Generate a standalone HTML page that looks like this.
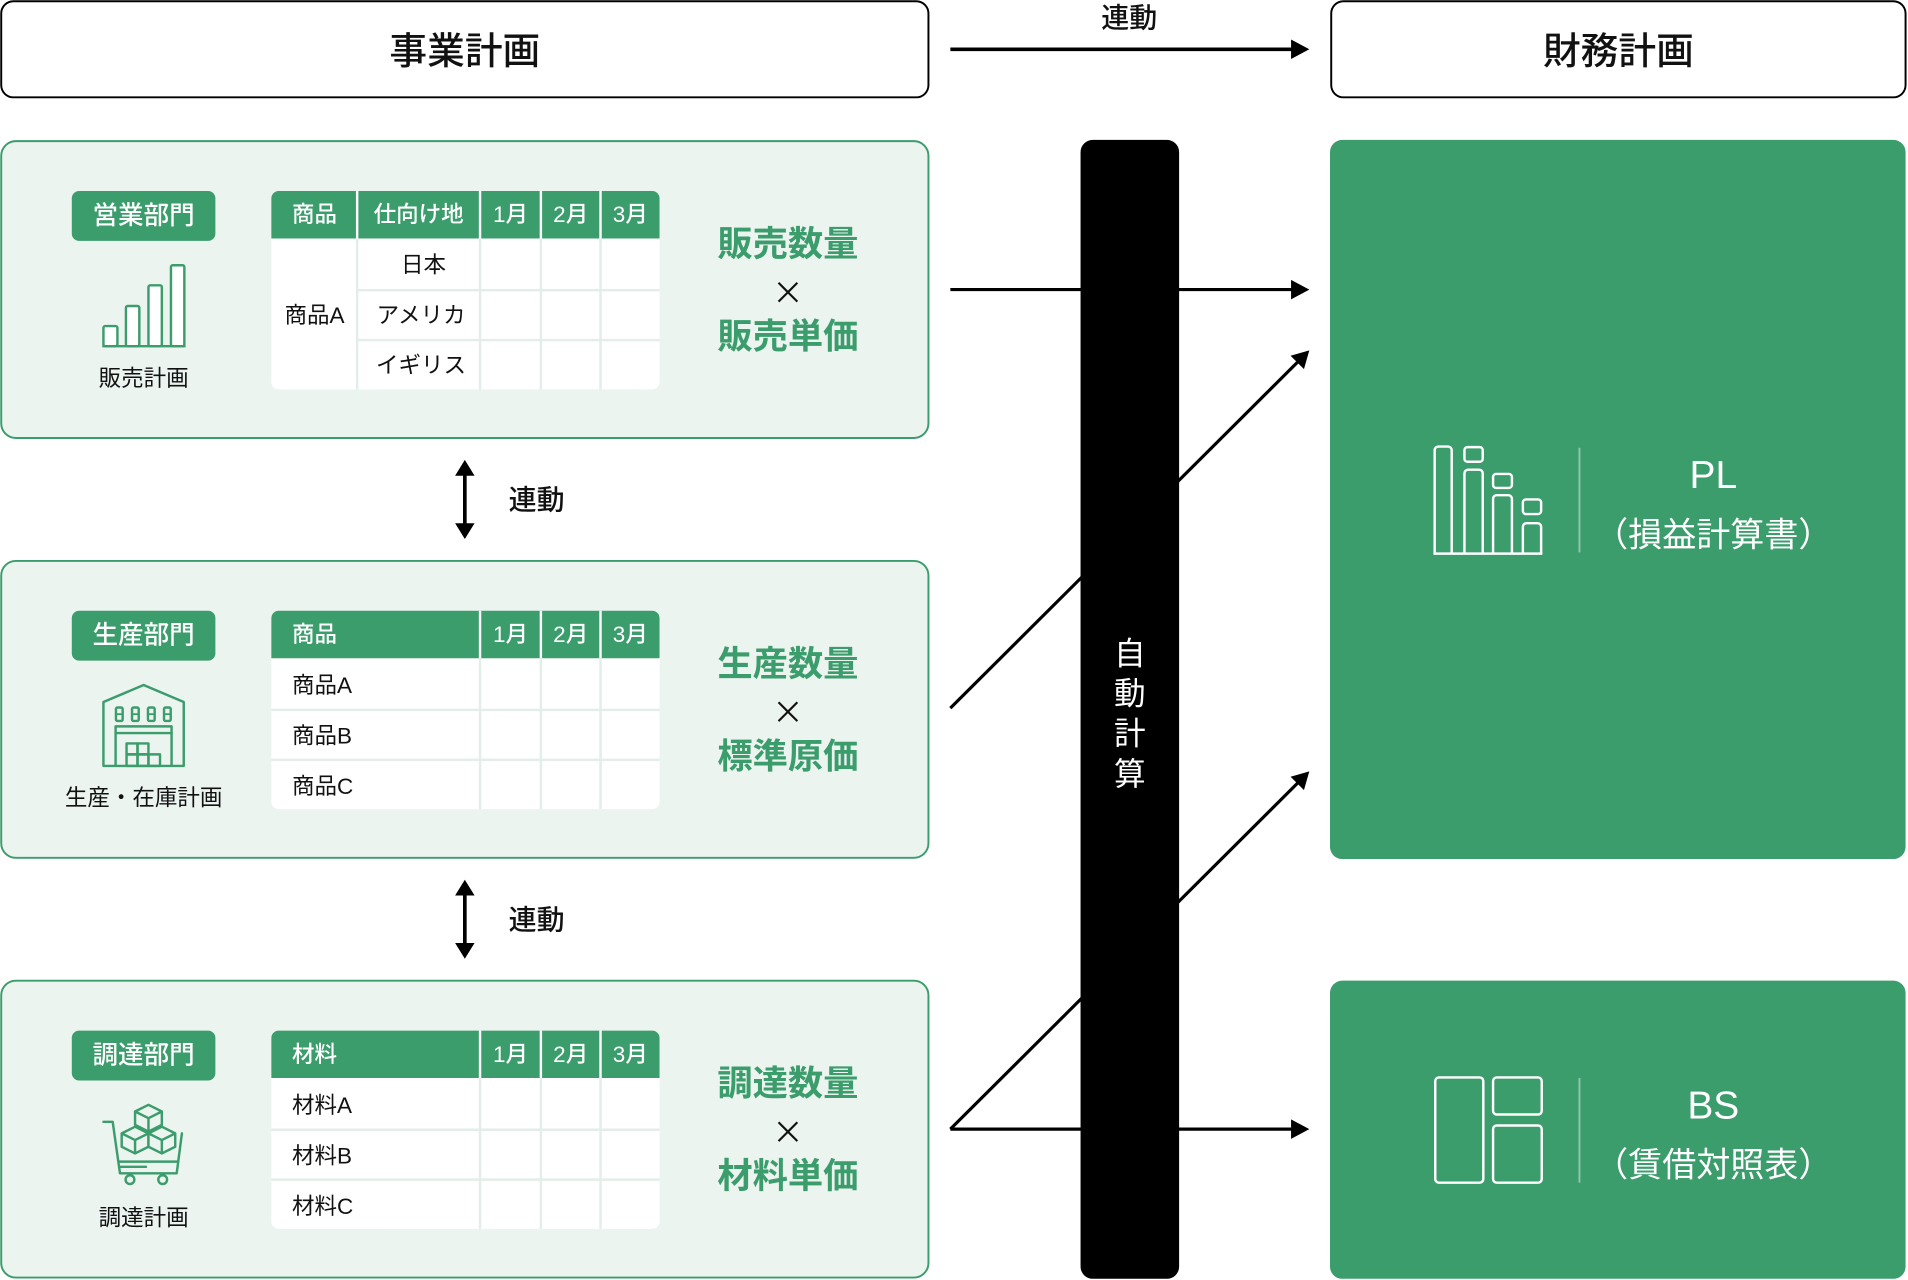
<!DOCTYPE html>
<html><head><meta charset="utf-8">
<style>
html,body{margin:0;padding:0;background:#fff;}
svg{display:block;}
text{font-family:"Liberation Sans","Noto Sans CJK JP",sans-serif;}
.x{font-family:"Noto Sans CJK JP",sans-serif;}
</style></head><body>
<svg width="1908" height="1280" viewBox="0 0 1568 1052" preserveAspectRatio="none" xmlns="http://www.w3.org/2000/svg">

<!-- Top boxes -->
<rect x="1" y="1" width="762" height="79" rx="10" fill="#fff" stroke="#000" stroke-width="1.6"/>
<text x="382" y="42" text-anchor="middle" dominant-baseline="central" font-size="31" font-weight="500" fill="#111">事業計画</text>
<rect x="1094" y="1" width="472" height="79" rx="10" fill="#fff" stroke="#000" stroke-width="1.6"/>
<text x="1330" y="42" text-anchor="middle" dominant-baseline="central" font-size="31" font-weight="500" fill="#111">財務計画</text>
<text x="928" y="15" text-anchor="middle" dominant-baseline="central" font-size="23" font-weight="500" fill="#111">連動</text>
<line x1="781" y1="40.5" x2="1064" y2="40.5" stroke="#000" stroke-width="3"/>
<polygon points="1076,40.5 1061,32.5 1061,48.5" fill="#000"/>

<!-- Arrows -->
<g stroke="#000" stroke-width="2.6" fill="none">
  <line x1="781" y1="238" x2="1064" y2="238"/>
  <line x1="781" y1="582" x2="1068" y2="296"/>
  <line x1="781" y1="928" x2="1068" y2="642"/>
  <line x1="781" y1="928" x2="1064" y2="928"/>
</g>
<g fill="#000">
  <polygon points="1076,238 1061,230 1061,246"/>
  <polygon points="1076,928 1061,920 1061,936"/>
  <polygon points="1076,288 1071.6,303.4 1060.6,292.4"/>
  <polygon points="1076,634 1071.6,649.4 1060.6,638.4"/>
</g>

<!-- Black bar -->
<rect x="888" y="115" width="81" height="936" rx="10" fill="#000"/>
<g fill="#fff" font-size="26" text-anchor="middle" dominant-baseline="central">
  <text x="928.5" y="537">自</text>
  <text x="928.5" y="570">動</text>
  <text x="928.5" y="603">計</text>
  <text x="928.5" y="636">算</text>
</g>

<!-- Linkage double arrows -->
<g>
  <line x1="382" y1="389" x2="382" y2="432" stroke="#000" stroke-width="3"/>
  <polygon points="382,378 374,391 390,391" fill="#000"/>
  <polygon points="382,443 374,430 390,430" fill="#000"/>
  <text x="441" y="411" text-anchor="middle" dominant-baseline="central" font-size="23" font-weight="500" fill="#111">連動</text>
  <line x1="382" y1="734" x2="382" y2="777" stroke="#000" stroke-width="3"/>
  <polygon points="382,723 374,736 390,736" fill="#000"/>
  <polygon points="382,788 374,775 390,775" fill="#000"/>
  <text x="441" y="756" text-anchor="middle" dominant-baseline="central" font-size="23" font-weight="500" fill="#111">連動</text>
</g>

<!-- Box 1: 営業 -->
<rect x="1" y="116" width="762" height="244" rx="12" fill="#ecf4f0" stroke="#3b9c6c" stroke-width="1.6"/>
<rect x="59" y="157" width="118" height="41" rx="6" fill="#3b9c6c"/>
<text x="118" y="177.5" text-anchor="middle" dominant-baseline="central" font-size="21" font-weight="500" fill="#fff">営業部門</text>
<g stroke="#3b9c6c" stroke-width="2" fill="#fff" stroke-linejoin="round">
  <rect x="85" y="268" width="11.5" height="16.5" rx="1.5"/>
  <rect x="103.5" y="251.5" width="11" height="33" rx="1.5"/>
  <rect x="122" y="234.5" width="11" height="50" rx="1.5"/>
  <rect x="140.5" y="218" width="11" height="66.5" rx="1.5"/>
  <line x1="84" y1="284.5" x2="152.5" y2="284.5"/>
</g>
<text x="118" y="311" text-anchor="middle" dominant-baseline="central" font-size="18.5" fill="#111">販売計画</text>

<!-- Table 1 -->
<rect x="223" y="157" width="319" height="163" rx="6" fill="#fff"/>
<path d="M223,163 a6,6 0 0 1 6,-6 h307 a6,6 0 0 1 6,6 v33 h-319 z" fill="#3b9c6c"/>
<g stroke="#fff" stroke-width="2">
  <line x1="293.5" y1="157" x2="293.5" y2="196"/>
  <line x1="394.5" y1="157" x2="394.5" y2="196"/>
  <line x1="444.5" y1="157" x2="444.5" y2="196"/>
  <line x1="493.5" y1="157" x2="493.5" y2="196"/>
</g>
<g stroke="#e3eee8" stroke-width="2">
  <line x1="293.5" y1="196" x2="293.5" y2="320"/>
  <line x1="394.5" y1="196" x2="394.5" y2="320"/>
  <line x1="444.5" y1="196" x2="444.5" y2="320"/>
  <line x1="493.5" y1="196" x2="493.5" y2="320"/>
  <line x1="293" y1="238.5" x2="542" y2="238.5"/>
  <line x1="293" y1="279.5" x2="542" y2="279.5"/>
</g>
<g font-size="18.5" text-anchor="middle" dominant-baseline="central">
  <g fill="#fff" font-weight="500">
    <text x="258.5" y="176.5">商品</text>
    <text x="344" y="176.5">仕向け地</text>
    <text x="419.5" y="176.5">1月</text>
    <text x="469" y="176.5">2月</text>
    <text x="518" y="176.5">3月</text>
  </g>
  <g fill="#111">
    <text x="258.5" y="259.5">商品A</text>
    <text x="348" y="218">日本</text>
    <text x="346" y="259.5">アメリカ</text>
    <text x="346" y="300.5">イギリス</text>
  </g>
</g>
<g fill="#3b9c6c" font-size="29" font-weight="700" text-anchor="middle" dominant-baseline="central">
  <text x="647.5" y="201">販売数量</text>
  <text x="647.5" y="277">販売単価</text>
</g>
<text class="x" x="647.5" y="239" text-anchor="middle" dominant-baseline="central" font-size="26" fill="#111">×</text>

<!-- Box 2: 生産 -->
<rect x="1" y="461" width="762" height="244" rx="12" fill="#ecf4f0" stroke="#3b9c6c" stroke-width="1.6"/>
<rect x="59" y="502" width="118" height="41" rx="6" fill="#3b9c6c"/>
<text x="118" y="522.5" text-anchor="middle" dominant-baseline="central" font-size="21" font-weight="500" fill="#fff">生産部門</text>
<g stroke="#3b9c6c" stroke-width="2" fill="none" stroke-linejoin="round">
  <path d="M85,629.5 V577 L118,563 L151,577 V629.5 Z"/>
  <rect x="95.3" y="581.5" width="5.5" height="11" rx="1.2"/>
  <rect x="108.5" y="581.5" width="5.5" height="11" rx="1.2"/>
  <rect x="121.6" y="581.5" width="5.5" height="11" rx="1.2"/>
  <rect x="134.8" y="581.5" width="5.5" height="11" rx="1.2"/>
  <path d="M95.3,587 h5.5 M108.5,587 h5.5 M121.6,587 h5.5 M134.8,587 h5.5" stroke-width="1.5"/>
  <path d="M95,629.5 V597 H141 V629.5"/>
  <line x1="95" y1="602.5" x2="141" y2="602.5"/>
  <rect x="104" y="611" width="9" height="9"/>
  <rect x="113" y="611" width="9" height="9"/>
  <rect x="104" y="620" width="9" height="9.5"/>
  <rect x="113" y="620" width="9" height="9.5"/>
  <rect x="122" y="620" width="9.5" height="9.5"/>
</g>
<text x="118" y="656" text-anchor="middle" dominant-baseline="central" font-size="18.5" fill="#111">生産・在庫計画</text>

<!-- Table 2 -->
<rect x="223" y="502" width="319" height="163" rx="6" fill="#fff"/>
<path d="M223,508 a6,6 0 0 1 6,-6 h307 a6,6 0 0 1 6,6 v33 h-319 z" fill="#3b9c6c"/>
<g stroke="#fff" stroke-width="2">
  <line x1="394.5" y1="502" x2="394.5" y2="541"/>
  <line x1="444.5" y1="502" x2="444.5" y2="541"/>
  <line x1="493.5" y1="502" x2="493.5" y2="541"/>
</g>
<g stroke="#e3eee8" stroke-width="2">
  <line x1="394.5" y1="541" x2="394.5" y2="665"/>
  <line x1="444.5" y1="541" x2="444.5" y2="665"/>
  <line x1="493.5" y1="541" x2="493.5" y2="665"/>
  <line x1="223" y1="583.5" x2="542" y2="583.5"/>
  <line x1="223" y1="624.5" x2="542" y2="624.5"/>
</g>
<g font-size="18.5" dominant-baseline="central">
  <g fill="#fff" font-weight="500">
    <text x="240" y="521.5">商品</text>
    <text x="419.5" y="521.5" text-anchor="middle">1月</text>
    <text x="469" y="521.5" text-anchor="middle">2月</text>
    <text x="518" y="521.5" text-anchor="middle">3月</text>
  </g>
  <g fill="#111">
    <text x="240" y="563.5">商品A</text>
    <text x="240" y="605">商品B</text>
    <text x="240" y="646.5">商品C</text>
  </g>
</g>
<g fill="#3b9c6c" font-size="29" font-weight="700" text-anchor="middle" dominant-baseline="central">
  <text x="647.5" y="546">生産数量</text>
  <text x="647.5" y="622">標準原価</text>
</g>
<text class="x" x="647.5" y="584" text-anchor="middle" dominant-baseline="central" font-size="26" fill="#111">×</text>

<!-- Box 3: 調達 -->
<rect x="1" y="806" width="762" height="244" rx="12" fill="#ecf4f0" stroke="#3b9c6c" stroke-width="1.6"/>
<rect x="59" y="847" width="118" height="41" rx="6" fill="#3b9c6c"/>
<text x="118" y="867.5" text-anchor="middle" dominant-baseline="central" font-size="21" font-weight="500" fill="#fff">調達部門</text>
<g stroke="#3b9c6c" stroke-width="2" fill="none" stroke-linejoin="round" stroke-linecap="round">
  <path d="M85,922 H92.6 L98.6,964.3 H145.2 L149.5,931.5"/>
  <line x1="97.5" y1="954.7" x2="146.5" y2="954.7"/>
  <line x1="98.5" y1="959" x2="120" y2="959"/>
  <circle cx="106.8" cy="969.5" r="3.6" fill="#ecf4f0"/>
  <circle cx="133.7" cy="969.5" r="3.6" fill="#ecf4f0"/>
  <g fill="#ecf4f0">
    <path d="M122,908 L133,913.5 V924.5 L122,930 L111,924.5 V913.5 Z M111,913.5 L122,919 L133,913.5 M122,919 V930"/>
    <path d="M111,926 L122,931.5 V942.5 L111,948 L100,942.5 V931.5 Z M100,931.5 L111,937 L122,931.5 M111,937 V948"/>
    <path d="M133,926 L144,931.5 V942.5 L133,948 L122,942.5 V931.5 Z M122,931.5 L133,937 L144,931.5 M133,937 V948"/>
  </g>
</g>
<text x="118" y="1001" text-anchor="middle" dominant-baseline="central" font-size="18.5" fill="#111">調達計画</text>

<!-- Table 3 -->
<rect x="223" y="847" width="319" height="163" rx="6" fill="#fff"/>
<path d="M223,853 a6,6 0 0 1 6,-6 h307 a6,6 0 0 1 6,6 v33 h-319 z" fill="#3b9c6c"/>
<g stroke="#fff" stroke-width="2">
  <line x1="394.5" y1="847" x2="394.5" y2="886"/>
  <line x1="444.5" y1="847" x2="444.5" y2="886"/>
  <line x1="493.5" y1="847" x2="493.5" y2="886"/>
</g>
<g stroke="#e3eee8" stroke-width="2">
  <line x1="394.5" y1="886" x2="394.5" y2="1010"/>
  <line x1="444.5" y1="886" x2="444.5" y2="1010"/>
  <line x1="493.5" y1="886" x2="493.5" y2="1010"/>
  <line x1="223" y1="928.5" x2="542" y2="928.5"/>
  <line x1="223" y1="969.5" x2="542" y2="969.5"/>
</g>
<g font-size="18.5" dominant-baseline="central">
  <g fill="#fff" font-weight="500">
    <text x="240" y="866.5">材料</text>
    <text x="419.5" y="866.5" text-anchor="middle">1月</text>
    <text x="469" y="866.5" text-anchor="middle">2月</text>
    <text x="518" y="866.5" text-anchor="middle">3月</text>
  </g>
  <g fill="#111">
    <text x="240" y="908.5">材料A</text>
    <text x="240" y="950">材料B</text>
    <text x="240" y="991.5">材料C</text>
  </g>
</g>
<g fill="#3b9c6c" font-size="29" font-weight="700" text-anchor="middle" dominant-baseline="central">
  <text x="647.5" y="891">調達数量</text>
  <text x="647.5" y="967">材料単価</text>
</g>
<text class="x" x="647.5" y="929" text-anchor="middle" dominant-baseline="central" font-size="26" fill="#111">×</text>

<!-- PL box -->
<rect x="1093" y="115" width="473" height="591" rx="10" fill="#3b9c6c"/>
<g stroke="#fff" stroke-width="2" fill="none" stroke-linejoin="round">
  <path d="M1179,455 V370 a3,3 0 0 1 3,-3 h8 a3,3 0 0 1 3,3 V455"/>
  <rect x="1203.5" y="367.5" width="15" height="12" rx="2.5"/>
  <path d="M1203.5,455 V389 a3,3 0 0 1 3,-3 h9 a3,3 0 0 1 3,3 V455"/>
  <rect x="1227" y="389.5" width="15.5" height="11.5" rx="2.5"/>
  <path d="M1227,455 V410 a3,3 0 0 1 3,-3 h9.5 a3,3 0 0 1 3,3 V455"/>
  <rect x="1251.5" y="410.5" width="15" height="12" rx="2.5"/>
  <path d="M1251.5,455 V433 a3,3 0 0 1 3,-3 h9 a3,3 0 0 1 3,3 V455"/>
  <line x1="1178" y1="455" x2="1267.5" y2="455"/>
</g>
<line x1="1298" y1="368" x2="1298" y2="454" stroke="#fff" stroke-opacity="0.45" stroke-width="1.5"/>
<text x="1408" y="391" text-anchor="middle" dominant-baseline="central" font-size="32" fill="#fff">PL</text>
<text x="1408" y="440" text-anchor="middle" dominant-baseline="central" font-size="28" fill="#fff">（損益計算書）</text>

<!-- BS box -->
<rect x="1093" y="806" width="473" height="245" rx="10" fill="#3b9c6c"/>
<g stroke="#fff" stroke-width="2" fill="none">
  <rect x="1179.5" y="885.5" width="39.5" height="86.5" rx="3"/>
  <rect x="1227" y="885.5" width="40" height="30.5" rx="3"/>
  <rect x="1227" y="925" width="40" height="47" rx="3"/>
</g>
<line x1="1298" y1="886" x2="1298" y2="972" stroke="#fff" stroke-opacity="0.45" stroke-width="1.5"/>
<text x="1408" y="909" text-anchor="middle" dominant-baseline="central" font-size="32" fill="#fff">BS</text>
<text x="1408" y="958" text-anchor="middle" dominant-baseline="central" font-size="28" fill="#fff">（賃借対照表）</text>
</svg>
</body></html>
